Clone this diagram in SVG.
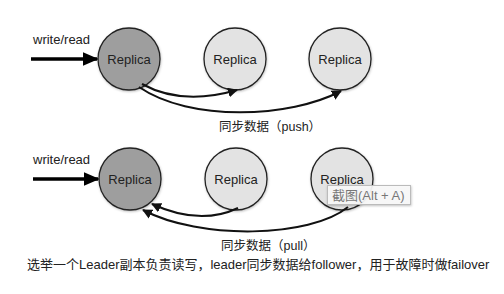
<svg xmlns="http://www.w3.org/2000/svg" width="504" height="294" viewBox="0 0 504 294">
<style>
text{font-family:"Liberation Sans","Noto Sans CJK SC",sans-serif;fill:#222}
.node circle{stroke:#222;stroke-width:1.3}
.leader circle{fill:#9e9e9e}
.follower circle{fill:#e3e3e3}
.lbl{font-size:13px;text-anchor:middle}
.curve{fill:none;stroke:#111;stroke-width:2}
.thick{fill:none;stroke:#000;stroke-width:3.5}
</style>
<defs>
<marker id="ah" viewBox="0 0 10 10" refX="9" refY="5" markerWidth="10" markerHeight="10" markerUnits="userSpaceOnUse" orient="auto">
<path d="M0,0 L10,5 L0,10 z" fill="#111"/>
</marker>
<marker id="big" viewBox="0 0 10 10" refX="9" refY="5" markerWidth="16" markerHeight="14" markerUnits="userSpaceOnUse" orient="auto" preserveAspectRatio="none">
<path d="M0,0 L10,5 L0,10 z" fill="#000"/>
</marker>
<filter id="sh" x="-20%" y="-20%" width="140%" height="140%">
<feDropShadow dx="0.5" dy="1" stdDeviation="1" flood-color="#000" flood-opacity="0.25"/>
</filter>
</defs>
<rect width="504" height="294" fill="#fff"/>
<text x="33" y="44" font-size="13">write/read</text>
<text x="33" y="164" font-size="13">write/read</text>
<g id="top-leader" class="node leader"><circle cx="129" cy="59" r="31" filter="url(#sh)"/><text class="lbl" x="129" y="64">Replica</text></g>
<g id="top-follower1" class="node follower"><circle cx="235" cy="59" r="31" filter="url(#sh)"/><text class="lbl" x="235" y="64">Replica</text></g>
<g id="top-follower2" class="node follower"><circle cx="340" cy="59" r="31" filter="url(#sh)"/><text class="lbl" x="340" y="64">Replica</text></g>
<g id="bot-leader" class="node leader"><circle cx="130" cy="179" r="31" filter="url(#sh)"/><text class="lbl" x="130" y="184">Replica</text></g>
<g id="bot-follower1" class="node follower"><circle cx="236" cy="179" r="31" filter="url(#sh)"/><text class="lbl" x="236" y="184">Replica</text></g>
<g id="bot-follower2" class="node follower"><circle cx="342" cy="179" r="31" filter="url(#sh)"/><text class="lbl" x="342" y="184">Replica</text></g>
<g id="connectors">
<path class="thick" d="M31,59 L97,59" marker-end="url(#big)"/>
<path class="thick" d="M33,179 L98,179" marker-end="url(#big)"/>
<path class="curve" d="M142,84 Q182,106 237,90" marker-end="url(#ah)"/>
<path class="curve" d="M139,87 C190,122 290,118 341,91" marker-end="url(#ah)"/>
<path class="curve" d="M238,208 Q200,226 152,204" marker-end="url(#ah)"/>
<path class="curve" d="M348,207 C310,238 200,240 143,210" marker-end="url(#ah)"/>
</g>
<text x="219" y="131" font-size="12.5">同步数据（push）</text>
<text x="221" y="250" font-size="12.5">同步数据（pull）</text>
<text x="27" y="269" font-size="13">选举一个Leader副本负责读写，leader同步数据给follower，用于故障时做failover</text>
<g id="tooltip">
<rect x="327.5" y="185.5" width="83" height="19" fill="#f8f8f8" fill-opacity="0.92" stroke="#bbb" stroke-width="1" filter="url(#sh)"/>
<text x="332" y="200" font-size="13" style="fill:#777">截图(Alt + A)</text>
</g>
</svg>
